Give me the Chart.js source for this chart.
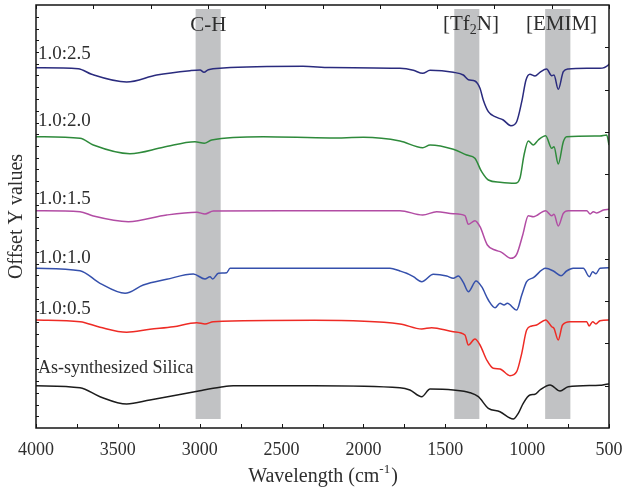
<!DOCTYPE html>
<html>
<head>
<meta charset="utf-8">
<title>FTIR spectra</title>
<script src="https://cdn.jsdelivr.net/npm/chart.js@4.4.0/dist/chart.umd.min.js"></script>
<style>
  html, body { margin: 0; padding: 0; background: #fff; }
</style>
</head>
<body>
<canvas id="ftir" width="627" height="489"></canvas>
<script>
// wavenumbers (cm-1) and offset transmittance for each sample
const silicaWn = [4000, 3731, 3609, 3446, 3304, 2998, 2876, 2795, 2300, 1777, 1716, 1644, 1593, 1451, 1349, 1298, 1237, 1166, 1085, 1054, 1024, 983, 952, 922, 860, 799, 749, 555, 504, 500];
const silicaT  = [42.3, 40.3, 31.3, 24, 28, 37.3, 40.7, 42.3, 42.3, 40.3, 38, 31.3, 39, 38, 35.3, 31.3, 19.7, 16.3, 9, 14.7, 24.7, 33, 33.7, 38, 43, 37, 41.3, 42.7, 44, 44];

const r05Wn = [4000, 3731, 3609, 3446, 3304, 3161, 3018, 2968, 2917, 2300, 1777, 1644, 1583, 1451, 1380, 1359, 1319, 1288, 1247, 1207, 1166, 1105, 1064, 1033, 1003, 972, 942, 887, 850, 836, 810, 784, 739, 636, 622, 600, 580, 555, 504, 500];
const r05T  = [108, 106.3, 100.7, 95.7, 98.7, 101.3, 105.3, 104, 106.3, 107.7, 104, 99, 100.3, 96.3, 93, 83, 89, 83, 68, 59.7, 59, 52.3, 56.3, 74.7, 98, 102, 103, 108, 101.3, 99.7, 88, 103, 106.3, 106.3, 102, 106.3, 104, 107.3, 108, 108];

const r10Wn = [4000, 3731, 3609, 3456, 3345, 3202, 3039, 2968, 2937, 2921, 2886, 2835, 2815, 1838, 1777, 1736, 1695, 1644, 1573, 1491, 1451, 1420, 1390, 1359, 1312, 1278, 1237, 1196, 1166, 1141, 1121, 1064, 1033, 1003, 962, 887, 840, 793, 759, 719, 657, 620, 600, 580, 555, 504, 500];
const r10T  = [159.7, 157.3, 144.7, 134.7, 143, 148.7, 154, 149, 151.3, 149, 154.7, 155.3, 159.7, 159.7, 157, 154.7, 151.3, 146.3, 153.7, 152, 149.7, 152, 145.7, 136.3, 147, 141.3, 128, 120.3, 124.7, 123, 124.7, 118, 133, 146.3, 150.3, 159.7, 157, 152.3, 157, 159.7, 159.7, 151.3, 156.3, 154.3, 159.7, 160.3, 160.3];

const r15Wn = [4000, 3731, 3650, 3436, 3202, 3018, 2968, 2917, 2500, 1777, 1638, 1553, 1451, 1380, 1359, 1319, 1288, 1243, 1196, 1156, 1101, 1064, 1027, 993, 962, 887, 850, 836, 810, 779, 749, 636, 615, 595, 575, 534, 500];
const r15T  = [217.3, 216.3, 212, 206.3, 213, 215.7, 214, 217, 217.3, 217.3, 213, 216.3, 214.3, 212.3, 203.7, 207.3, 201.3, 183, 178, 175.7, 169.7, 173.7, 193, 212.3, 211.3, 217.3, 212.3, 213.7, 202, 214.7, 217.3, 217.3, 214, 216.3, 215, 218, 218.7];

const r20Wn = [4000, 3731, 3650, 3426, 3222, 3029, 2972, 2927, 2612, 2204, 2000, 1777, 1638, 1593, 1451, 1369, 1319, 1278, 1237, 1166, 1074, 1044, 1019, 993, 962, 932, 887, 850, 836, 810, 779, 759, 555, 514, 500];
const r20T  = [291.3, 289.7, 283, 274.3, 280.7, 286.3, 284.7, 288, 291.3, 290, 290.7, 287, 280.3, 283, 278.7, 273, 269.7, 256.3, 248, 245.7, 244.7, 249.7, 273, 287, 283, 288, 292.3, 279.7, 281.3, 264, 286.3, 291.3, 292, 293, 283];

const r25Wn = [4000, 3742, 3660, 3446, 3263, 3059, 2998, 2974, 2947, 2856, 2369, 2204, 1777, 1695, 1638, 1593, 1451, 1390, 1359, 1319, 1288, 1268, 1237, 1196, 1146, 1099, 1064, 1033, 1007, 983, 952, 922, 881, 850, 836, 810, 779, 749, 636, 555, 504, 500];
const r25T  = [360.3, 359.3, 353.7, 346, 353, 357.3, 358, 355.7, 358.3, 360, 361.7, 360.5, 359.7, 357.7, 354.7, 357.7, 355.7, 353, 348.3, 347, 339.7, 328, 316.3, 311.3, 308, 302.3, 306.3, 326.3, 348, 353.7, 352, 355.7, 359, 352.3, 353, 338.7, 356.3, 359, 359.7, 359.7, 363, 364];

const sampleNames = ['As-synthesized Silica', '1.0:0.5', '1.0:1.0', '1.0:1.5', '1.0:2.0', '1.0:2.5'];
const sampleWn = [silicaWn, r05Wn, r10Wn, r15Wn, r20Wn, r25Wn];
const sampleT = [silicaT, r05T, r10T, r15T, r20T, r25T];
const sampleColors = ['#1c1c1c', '#ee2b25', '#3550ac', '#b24ca4', '#2e8a3b', '#2a2b7e'];

// shaded assignment regions (cm-1)
const bandNames = ['C-H', '[Tf2N]', '[EMIM]'];
const bandFrom = [3025, 1445, 890];
const bandTo = [2872, 1292, 736];

const SERIF = '"Liberation Serif", "DejaVu Serif", serif';
const TEXT = '#2e2e2e';

const datasets = sampleNames.map((name, i) => ({
    label: name,
    data: sampleWn[i].map((w, k) => ({ x: w, y: sampleT[i][k] })),
    borderColor: sampleColors[i],
    borderWidth: 1.5,
    pointRadius: 0,
    fill: false,
    cubicInterpolationMode: 'monotone'
}));

// grey bands behind the spectra
const bandsPlugin = {
    id: 'bands',
    beforeDatasetsDraw(chart) {
        const { ctx, scales: { x, y } } = chart;
        ctx.save();
        ctx.fillStyle = '#c1c2c4';
        bandFrom.forEach((from, i) => {
            const x0 = x.getPixelForValue(from);
            const x1 = x.getPixelForValue(bandTo[i]);
            const y0 = y.getPixelForValue(419);
            const y1 = y.getPixelForValue(9);
            ctx.fillRect(x0, y0, x1 - x0, y1 - y0);
        });
        ctx.restore();
    }
};

// frame, inward ticks, titles and text labels
const decorPlugin = {
    id: 'decor',
    afterDraw(chart) {
        const { ctx, chartArea: a, scales: { x, y } } = chart;
        ctx.save();

        ctx.strokeStyle = '#151515';
        ctx.lineWidth = 1;
        ctx.beginPath();
        for (let w = 500; w <= 4000; w += 250) {
            const px = Math.round(x.getPixelForValue(w)) + 0.5;
            ctx.moveTo(px, a.bottom);
            ctx.lineTo(px, a.bottom - 4);
        }
        for (let w = 4000; w >= 500; w -= 350) {
            const px = Math.round(x.getPixelForValue(w)) + 0.5;
            ctx.moveTo(px, a.top);
            ctx.lineTo(px, a.top + 4);
        }
        for (let v = 11.75; v < 423; v += 11.75) {
            const py = Math.round(y.getPixelForValue(v)) + 0.5;
            ctx.moveTo(a.left, py);
            ctx.lineTo(a.left + 3, py);
        }
        for (let v = 42.3; v < 423; v += 42.3) {
            const py = Math.round(y.getPixelForValue(v)) + 0.5;
            ctx.moveTo(a.right, py);
            ctx.lineTo(a.right - 4, py);
        }
        ctx.stroke();

        ctx.lineWidth = 1.5;
        ctx.strokeRect(a.left, a.top, a.right - a.left, a.bottom - a.top);

        ctx.fillStyle = TEXT;
        ctx.textBaseline = 'middle';

        // sample names, left aligned next to the y axis
        const nameY = [368, 309.5, 258, 199.5, 121.5, 54];
        ctx.textAlign = 'left';
        sampleNames.forEach((name, i) => {
            ctx.font = (i === 0 ? 18 : 19) + 'px ' + SERIF;
            ctx.fillText(name, a.left + 2, nameY[i]);
        });

        // band captions
        ctx.font = '21px ' + SERIF;
        ctx.textAlign = 'center';
        ctx.fillText(bandNames[0], x.getPixelForValue(2948), 25);
        ctx.fillText(bandNames[2], x.getPixelForValue(790), 24);

        const parts = [['[Tf', 21, 0], ['2', 14, 6], ['N]', 21, 0]];
        let total = 0;
        parts.forEach(p => { ctx.font = p[1] + 'px ' + SERIF; total += ctx.measureText(p[0]).width; });
        let cx = x.getPixelForValue(1343) - total / 2;
        ctx.textAlign = 'left';
        parts.forEach(p => {
            ctx.font = p[1] + 'px ' + SERIF;
            ctx.fillText(p[0], cx, 24 + p[2]);
            cx += ctx.measureText(p[0]).width;
        });

        // axis titles
        const tx = [['Wavelength (cm', 20, 0], ['-1', 13, -7], [')', 20, 0]];
        total = 0;
        tx.forEach(p => { ctx.font = p[1] + 'px ' + SERIF; total += ctx.measureText(p[0]).width; });
        cx = (a.left + a.right) / 2 - total / 2;
        tx.forEach(p => {
            ctx.font = p[1] + 'px ' + SERIF;
            ctx.fillText(p[0], cx, 477 + p[2]);
            cx += ctx.measureText(p[0]).width + (p[0] === '-1' ? 1 : 0);
        });

        ctx.translate(17, (a.top + a.bottom) / 2);
        ctx.rotate(-Math.PI / 2);
        ctx.textAlign = 'center';
        ctx.font = '20px ' + SERIF;
        ctx.fillText('Offset Y values', 0, 0);

        ctx.restore();
    }
};

new Chart(document.getElementById('ftir'), {
    type: 'line',
    data: { datasets },
    options: {
        responsive: false,
        animation: false,
        layout: { padding: { top: 5, right: 18, left: 0, bottom: 0 } },
        plugins: {
            legend: { display: false },
            tooltip: { enabled: false }
        },
        scales: {
            x: {
                type: 'linear',
                reverse: true,
                min: 500,
                max: 4000,
                grid: { display: false, drawTicks: false },
                border: { display: false },
                ticks: {
                    stepSize: 500,
                    padding: 11,
                    autoSkip: false,
                    maxRotation: 0,
                    color: TEXT,
                    font: { family: SERIF, size: 18 },
                    callback: v => String(v)
                },
                afterFit: s => {
                    s.height = 61;
                    s.paddingLeft = 0;
                    s.paddingRight = 0;
                }
            },
            y: {
                min: 0,
                max: 423,
                grid: { display: false, drawTicks: false },
                border: { display: false },
                ticks: { display: false },
                afterFit: s => { s.width = 36; }
            }
        }
    },
    plugins: [bandsPlugin, decorPlugin]
});
</script>
</body>
</html>
